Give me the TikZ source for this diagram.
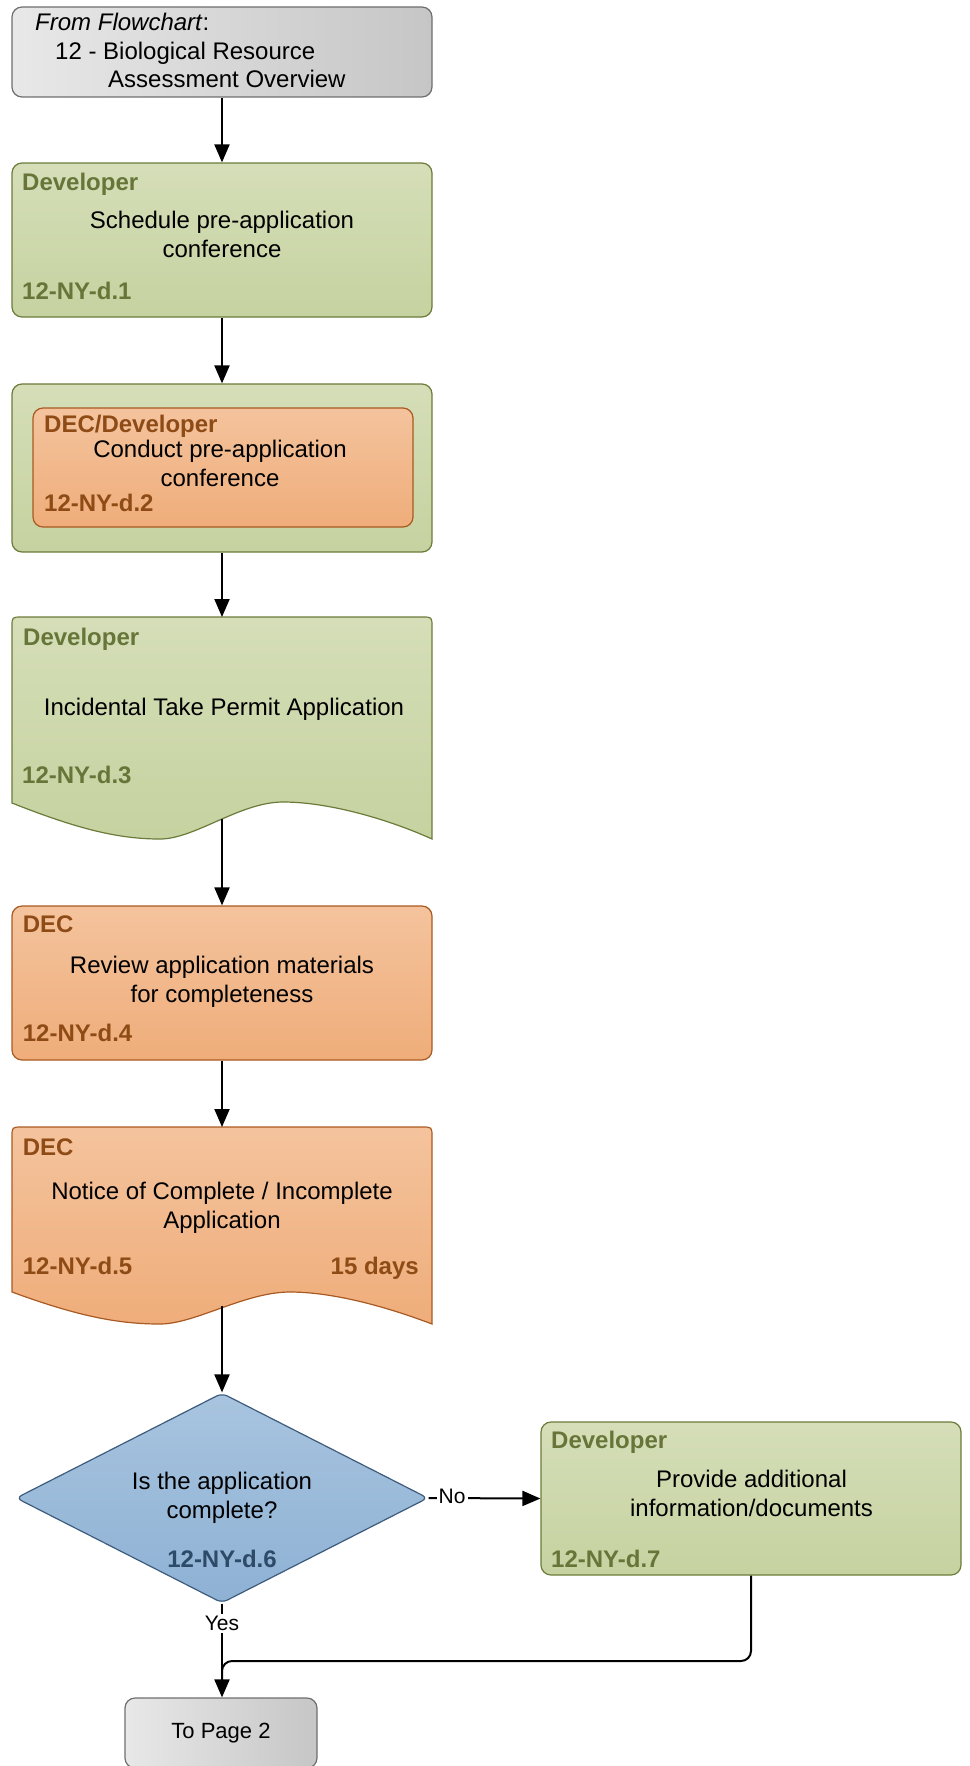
\documentclass[tikz,border=0pt]{standalone}
\usepackage{fontspec}
\setmainfont{Liberation Sans}
\usepackage{tikz}
\usetikzlibrary{arrows.meta,shapes.geometric}

\definecolor{greenTop}{HTML}{D5DEB8}
\definecolor{greenBot}{HTML}{C6D2A0}
\definecolor{greenLine}{HTML}{6B7B3A}
\definecolor{greenText}{HTML}{677539}
\definecolor{orangeTop}{HTML}{F4C39D}
\definecolor{orangeBot}{HTML}{EFAD7A}
\definecolor{orangeLine}{HTML}{A95A22}
\definecolor{orangeText}{HTML}{8E4B16}
\definecolor{blueTop}{HTML}{A8C4DF}
\definecolor{blueBot}{HTML}{8EB1D4}
\definecolor{blueLine}{HTML}{3D5C7D}
\definecolor{blueText}{HTML}{2E4A69}
\definecolor{grayLeft}{HTML}{E8E8E8}
\definecolor{grayRight}{HTML}{C6C6C6}
\definecolor{grayLine}{HTML}{6E6E6E}

\begin{document}
\begin{tikzpicture}[x=1pt, y=-1pt,
   box/.style={rectangle, rounded corners=10pt, line width=1.2pt, inner sep=0pt},
   greenbox/.style={box, draw=greenLine, top color=greenTop, bottom color=greenBot},
   orangebox/.style={box, draw=orangeLine, top color=orangeTop, bottom color=orangeBot},
   graybox/.style={box, draw=grayLine, left color=grayLeft, right color=grayRight},
   greendoc/.style={line width=1.2pt, draw=greenLine, top color=greenTop, bottom color=greenBot},
   orangedoc/.style={line width=1.2pt, draw=orangeLine, top color=orangeTop, bottom color=orangeBot},
   who/.style={inner sep=0pt, anchor=base west, font=\fontsize{24}{28}\selectfont\bfseries},
   body/.style={inner sep=0pt, align=center, font=\fontsize{24}{29}\selectfont},
   flow/.style={line width=2pt, -{Triangle[length=18pt,width=15pt]}},
   answer/.style={fill=white, inner sep=2pt, font=\fontsize{21}{24}\selectfont}]
\useasboundingbox (0,0) rectangle (969,1766);

% source flowchart
\node[graybox, minimum width=420pt, minimum height=90pt] (src) at (222,52) {};
\node[inner sep=0pt, anchor=north west, align=left, font=\fontsize{24}{28.5}\selectfont] (srctext) at (35,13)
   {\textit{From Flowchart}:\\\hspace*{20pt}12 - Biological Resource\\\hspace*{73pt}Assessment Overview};

% d.1
\node[greenbox, minimum width=420pt, minimum height=154pt] (s1) at (222,240) {};
\node[who, text=greenText] (s1who) at (22,190.5) {Developer};
\node[body] (s1txt) at (222,234) {Schedule pre-application\\conference};
\node[who, text=greenText] (s1id) at (22,299) {12-NY-d.1};

% d.2
\node[greenbox, minimum width=420pt, minimum height=168pt] (s2) at (222,468) {};
\node[orangebox, minimum width=380pt, minimum height=119pt] (s2in) at (223,467.5) {};
\node[who, text=orangeText] (s2who) at (44,432.7) {DEC/Developer};
\node[body] (s2txt) at (220,463.5) {Conduct pre-application\\conference};
\node[who, text=orangeText] (s2id) at (44,511.7) {12-NY-d.2};

% d.3 document
\draw[greendoc] (432,839) -- (432,627) .. controls (432,617) .. (422,617) -- (22,617)
   .. controls (12,617) .. (12,627) -- (12,803)
   .. controls (80,830) and (120,839) .. (160,839)
   .. controls (195,839) and (240,802) .. (283,802)
   .. controls (330,802) and (390,820) .. (432,839) -- cycle;
\coordinate (d3top) at (222,617);
\coordinate (d3out) at (222,819);
\node[who, text=greenText] (s3who) at (23,645.7) {Developer};
\node[body, anchor=base] (s3txt) at (224,715) {Incidental Take Permit Application};
\node[who, text=greenText] (s3id) at (22,783) {12-NY-d.3};

% d.4
\node[orangebox, minimum width=420pt, minimum height=154pt] (s4) at (222,983) {};
\node[who, text=orangeText] (s4who) at (22.7,932) {DEC};
\node[body] (s4txt) at (222,981.5) {Review application materials\\for completeness};
\node[who, text=orangeText] (s4id) at (22.7,1041.7) {12-NY-d.4};

% d.5 document
\draw[orangedoc] (432,1324) -- (432,1137) .. controls (432,1127) .. (422,1127) -- (22,1127)
   .. controls (12,1127) .. (12,1137) -- (12,1292)
   .. controls (80,1317) and (120,1324) .. (160,1324)
   .. controls (195,1324) and (245,1292) .. (290,1292)
   .. controls (335,1292) and (390,1308) .. (432,1324) -- cycle;
\coordinate (d5top) at (222,1127);
\coordinate (d5out) at (222,1306);
\node[who, text=orangeText] (s5who) at (22.7,1155) {DEC};
\node[body] (s5txt) at (222,1207.8) {Notice of Complete / Incomplete\\Application};
\node[who, text=orangeText] (s5id) at (22.7,1274) {12-NY-d.5};
\node[who, anchor=base east, text=orangeText] (s5days) at (419,1274) {15 days};

% d.6 decision
\node[diamond, rounded corners=6pt, inner sep=0pt, line width=1.2pt, draw=blueLine,
   top color=blueTop, bottom color=blueBot, minimum width=412pt, minimum height=210pt] (q6) at (222,1498) {};
\node[body] (q6txt) at (222,1498) {Is the application\\complete?};
\node[who, anchor=base, text=blueText] (q6id) at (222,1567.3) {12-NY-d.6};

% d.7
\node[greenbox, minimum width=420pt, minimum height=153pt] (s7) at (751,1498.5) {};
\node[who, text=greenText] (s7who) at (551,1448.3) {Developer};
\node[body] (s7txt) at (751.5,1493.6) {Provide additional\\information/documents};
\node[who, text=greenText] (s7id) at (551,1567.3) {12-NY-d.7};

% next page
\node[graybox, minimum width=192pt, minimum height=70pt, font=\fontsize{22}{25}\selectfont] (page) at (221,1733) {To Page 2};

% connectors
\draw[flow] (src.south) -- (s1.north);
\draw[flow] (s1.south) -- (s2.north);
\draw[flow] (s2.south) -- (d3top);
\draw[flow] (d3out) -- (s4.north);
\draw[flow] (s4.south) -- (d5top);
\draw[flow] (d5out) -- (q6.north);
\draw[flow] (q6.east) -- node[answer, pos=0.21, yshift=2pt] (no) {No} (s7.west);
\draw[flow] (q6.south) -- node[answer, pos=0.21] (yes) {Yes} (page.north -| q6.south);
\coordinate (merge) at (222,1661);
\coordinate (mergeEnd) at (222,1682);
\draw[line width=2pt, rounded corners=10pt] (s7.south) |- (merge) -- (mergeEnd);
\end{tikzpicture}
\end{document}
